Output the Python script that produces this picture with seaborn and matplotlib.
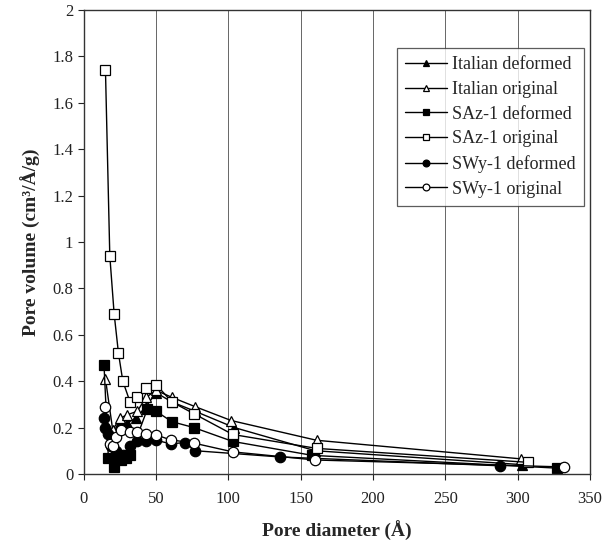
import matplotlib
matplotlib.use('Agg')
import matplotlib.pyplot as plt
import seaborn as sns
import pandas as pd
from matplotlib.ticker import FuncFormatter

# pore size distributions
it_def_x = [17, 20, 25, 30, 36, 43, 50, 61, 77, 104, 160, 303]
it_def_y = [0.20, 0.16, 0.22, 0.22, 0.24, 0.29, 0.35, 0.31, 0.27, 0.20, 0.10, 0.04]

it_org_x = [15, 20, 25, 30, 37, 43, 50, 61, 77, 102, 161, 302]
it_org_y = [0.41, 0.19, 0.24, 0.255, 0.27, 0.33, 0.36, 0.33, 0.29, 0.23, 0.145, 0.065]

saz_def_x = [14, 17, 21, 23, 26, 29, 32, 44, 50, 61, 76, 103, 158, 327]
saz_def_y = [0.47, 0.07, 0.03, 0.07, 0.06, 0.07, 0.08, 0.28, 0.27, 0.225, 0.20, 0.14, 0.08, 0.025]

saz_org_x = [15, 18, 21, 24, 27, 32, 37, 43, 50, 61, 76, 103, 161, 307]
saz_org_y = [1.74, 0.94, 0.69, 0.52, 0.40, 0.31, 0.33, 0.37, 0.385, 0.31, 0.26, 0.17, 0.11, 0.05]

swy_def_x = [14, 15, 17, 19, 22, 27, 32, 37, 43, 50, 60, 70, 77, 136, 288]
swy_def_y = [0.24, 0.20, 0.17, 0.12, 0.10, 0.08, 0.12, 0.14, 0.14, 0.145, 0.13, 0.135, 0.10, 0.073, 0.035]

swy_org_x = [15, 18, 20, 22, 26, 32, 37, 43, 50, 60, 76, 103, 160, 332]
swy_org_y = [0.29, 0.13, 0.12, 0.16, 0.19, 0.18, 0.18, 0.17, 0.168, 0.147, 0.133, 0.095, 0.06, 0.03]

series = [
    ('Italian deformed', it_def_x, it_def_y, '^', 'black'),
    ('Italian original', it_org_x, it_org_y, '^', 'white'),
    ('SAz-1 deformed', saz_def_x, saz_def_y, 's', 'black'),
    ('SAz-1 original', saz_org_x, saz_org_y, 's', 'white'),
    ('SWy-1 deformed', swy_def_x, swy_def_y, 'o', 'black'),
    ('SWy-1 original', swy_org_x, swy_org_y, 'o', 'white'),
]

sns.set_style('white')
plt.rcParams['font.family'] = ['Liberation Serif', 'DejaVu Serif']

fig = plt.figure(figsize=(6.07, 5.53), dpi=100)
ax = fig.add_axes([0.138, 0.143, 0.834, 0.839])

for name, xs, ys, mk, fc in series:
    df = pd.DataFrame({'d': xs, 'v': ys})
    sns.lineplot(data=df, x='d', y='v', ax=ax, sort=False, color='black',
                 linewidth=1.0, marker=mk, markersize=7.5, markerfacecolor=fc,
                 markeredgecolor='black', markeredgewidth=0.9, label=name)

ax.set_xlim(0, 350)
ax.set_ylim(0, 2)
ax.set_xticks(range(0, 351, 50))
ax.set_yticks([i * 0.2 for i in range(11)])
ax.yaxis.set_major_formatter(FuncFormatter(lambda v, p: '%g' % round(v, 1)))
for xv in range(50, 301, 50):
    ax.axvline(xv, color='#666666', linewidth=0.7, zorder=0)

for s in ax.spines.values():
    s.set_color('#333333')
    s.set_linewidth(1.0)
ax.tick_params(axis='both', direction='out', length=4, width=0.8,
               labelsize=12, colors='#222222', bottom=True, left=True)
ax.tick_params(axis='x', pad=8)

ax.set_xlabel('Pore diameter (Å)', fontsize=14, fontweight='bold', labelpad=10)
ax.set_ylabel('Pore volume (cm³/Å/g)', fontsize=14, fontweight='bold', labelpad=8)

leg = ax.legend(loc='upper right', bbox_to_anchor=(0.988, 0.918), fontsize=13,
                frameon=True, fancybox=False, edgecolor='#333333',
                handlelength=2.3, labelspacing=0.43, borderpad=0.45,
                handletextpad=0.3, borderaxespad=0, markerscale=0.65)
leg.get_frame().set_linewidth(0.9)

fig.savefig('out.png', dpi=100)
